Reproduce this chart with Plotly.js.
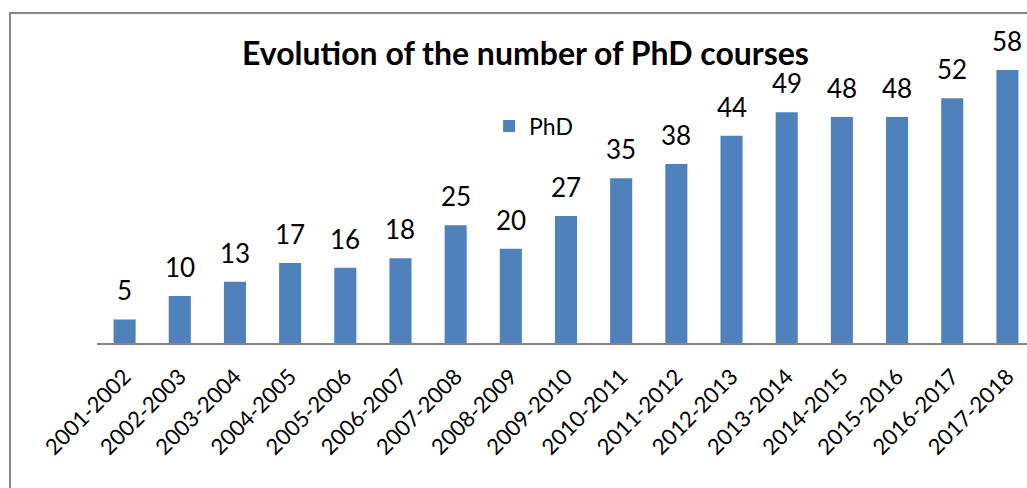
<!DOCTYPE html>
<html><head><meta charset="utf-8">
<script src="https://cdn.plot.ly/plotly-3.0.1.min.js"></script>
<style>html,body{margin:0;padding:0;overflow:hidden;background:#fff}</style>
</head><body><div id="chart"></div>
<script>
const years = ["2001-2002","2002-2003","2003-2004","2004-2005","2005-2006","2006-2007","2007-2008","2008-2009","2009-2010","2010-2011","2011-2012","2012-2013","2013-2014","2014-2015","2015-2016","2016-2017","2017-2018"];
const phd = [5,10,13,17,16,18,25,20,27,35,38,44,49,48,48,52,58];
const seriesName = "PhD";
const chartTitle = "Evolution of the number of PhD courses";

const FONT = "Lato, 'Open Sans', sans-serif";
const annotations = years.map((c,i)=>({
  x:c, y:phd[i], xref:'x', yref:'y', text:String(phd[i]), showarrow:false,
  yanchor:'bottom', yshift:11, font:{family:FONT,size:26,color:'#000'}
}));
annotations.push({
  text:chartTitle, xref:'paper', yref:'paper', x:0.457, y:(343-52)/306,
  xanchor:'center', yanchor:'middle', showarrow:false,
  font:{family:FONT,size:32,color:'#000',weight:'bold'}
});

Plotly.newPlot('chart',[{
  type:'bar', x:years, y:phd, name:seriesName,
  marker:{color:'#4F81BD'}, showlegend:true
}],{
  width:1040, height:488,
  margin:{l:97,r:5,t:37,b:145},
  paper_bgcolor:'#fff', plot_bgcolor:'#fff',
  bargap:0.6,
  xaxis:{type:'category', range:[-0.5,16.5], showline:true, linecolor:'#868686', linewidth:2,
    ticks:'', tickangle:-45, ticklabelstandoff:10, tickfont:{family:FONT,size:22,color:'#000'}, showgrid:false, zeroline:false},
  yaxis:{range:[0,65], visible:false, showgrid:false, zeroline:false},
  showlegend:true,
  legend:{x:0.418, y:0.709, xanchor:'left', yanchor:'middle', font:{family:FONT,size:23,color:'#000'}, bgcolor:'rgba(0,0,0,0)'},
  annotations:annotations,
  shapes:[{type:'rect', xref:'paper', yref:'paper', x0:(10-97)/938, x1:(1045-97)/938, y0:-0.6, y1:(343-13)/306,
    line:{color:'#868686', width:2}, fillcolor:'rgba(0,0,0,0)', layer:'above'}]
},{displayModeBar:false, staticPlot:true});
</script></body></html>
